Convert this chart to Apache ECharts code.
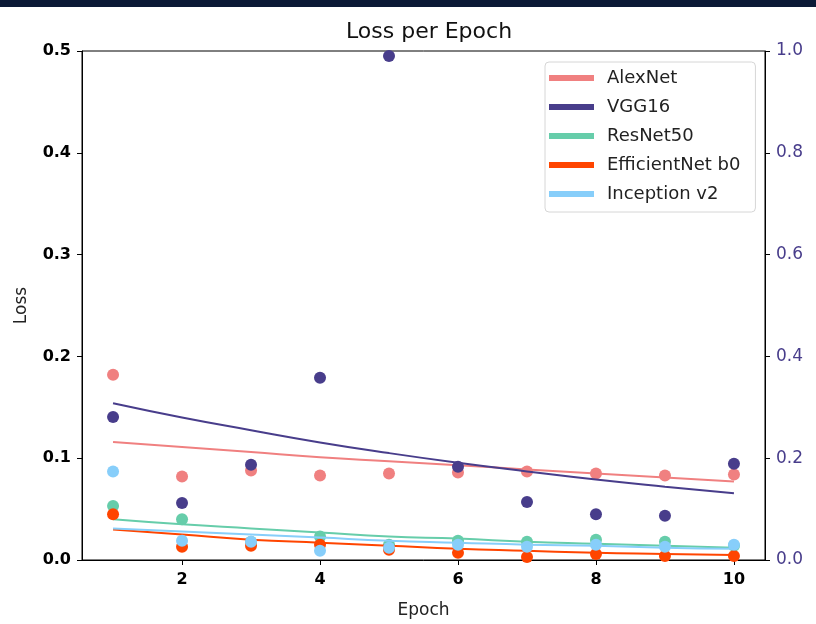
<!DOCTYPE html>
<html>
<head>
<meta charset="utf-8">
<script src="https://cdn.jsdelivr.net/npm/echarts@6/dist/echarts.min.js"></script>
<style>
  html, body { margin: 0; padding: 0; background: #fff; }
  #chart { width: 816px; height: 624px; }
</style>
</head>
<body>
<div id="chart"></div>
<script>
// epochs 1..10
const epochs = [1, 2, 3, 4, 5, 6, 7, 8, 9, 10];
const modelNames = ['AlexNet', 'VGG16', 'ResNet50', 'EfficientNet b0', 'Inception v2'];
const modelColors = ['#f08080', '#483d8b', '#66cdaa', '#ff4500', '#87cefa'];

// measured loss per epoch (dots)
const alexnetLoss   = [0.182, 0.082, 0.088, 0.083, 0.085, 0.086, 0.087, 0.085, 0.083, 0.084];
const vgg16Loss     = [0.281, 0.112, 0.187, 0.358, 0.990, 0.183, 0.114, 0.090, 0.087, 0.189]; // right axis
const resnet50Loss  = [0.053, 0.040, 0.018, 0.023, 0.015, 0.019, 0.018, 0.020, 0.018, 0.014];
const effnetLoss    = [0.045, 0.013, 0.014, 0.015, 0.010, 0.007, 0.003, 0.006, 0.004, 0.004];
const inceptionLoss = [0.087, 0.019, 0.018, 0.009, 0.012, 0.015, 0.013, 0.015, 0.013, 0.015];

// trend lines
const alexnetTrend   = [0.116, 0.111, 0.106, 0.101, 0.097, 0.093, 0.089, 0.085, 0.081, 0.077];
const vgg16Trend     = [0.308, 0.280, 0.255, 0.231, 0.210, 0.191, 0.174, 0.158, 0.144, 0.131];
const resnet50Trend  = [0.040, 0.035, 0.031, 0.027, 0.023, 0.021, 0.018, 0.016, 0.014, 0.012];
const effnetTrend    = [0.030, 0.025, 0.020, 0.017, 0.014, 0.011, 0.009, 0.007, 0.006, 0.005];
const inceptionTrend = [0.031, 0.028, 0.025, 0.022, 0.019, 0.017, 0.015, 0.014, 0.012, 0.011];

const lossList = [alexnetLoss, vgg16Loss, resnet50Loss, effnetLoss, inceptionLoss];
const trendList = [alexnetTrend, vgg16Trend, resnet50Trend, effnetTrend, inceptionTrend];
const leftTicks = ['0.0', '0.1', '0.2', '0.3', '0.4', '0.5'];
const rightTicks = ['0.0', '0.2', '0.4', '0.6', '0.8', '1.0'];
const xTicks = [2, 4, 6, 8, 10];

const font = 'DejaVu Sans';
let chart = echarts.init(document.getElementById('chart'), null, { renderer: 'canvas' });

let series = [];
for (let i = 0; i < modelNames.length; i++) {
  let axisIdx = modelNames[i] === 'VGG16' ? 1 : 0;
  series.push({
    name: modelNames[i],
    type: 'scatter',
    yAxisIndex: axisIdx,
    symbolSize: 12,
    itemStyle: { color: modelColors[i], opacity: 1 },
    data: epochs.map((e, k) => [e, lossList[i][k]]),
    z: 2 + i * 2
  });
  series.push({
    name: modelNames[i],
    type: 'line',
    yAxisIndex: axisIdx,
    showSymbol: false,
    smooth: true,
    lineStyle: { color: modelColors[i], width: 2 },
    itemStyle: { color: modelColors[i] },
    data: epochs.map((e, k) => [e, trendList[i][k]]),
    z: 3 + i * 2
  });
}

let option = {
  backgroundColor: '#fff',
  animation: false,
  textStyle: { fontFamily: font },
  graphic: [{
    type: 'rect',
    shape: { x: 0, y: 0, width: 816, height: 7 },
    style: { fill: '#0b1a36' }
  }],
  title: {
    text: 'Loss per Epoch',
    left: 424,
    textAlign: 'center',
    top: 16,
    textStyle: { fontFamily: font, fontSize: 22, fontWeight: 'normal', color: '#111' }
  },
  legend: {
    orient: 'vertical',
    left: 545,
    top: 62,
    padding: [6, 15, 8, 4],
    itemGap: 9,
    itemWidth: 45,
    itemHeight: 6,
    icon: 'rect',
    backgroundColor: '#fff',
    borderColor: '#d6d6d6',
    borderWidth: 1,
    borderRadius: 4,
    data: modelNames.map((n, i) => ({ name: n, itemStyle: { color: modelColors[i] } })),
    textStyle: { fontFamily: font, fontSize: 18, color: '#222', lineHeight: 20, padding: [0, 0, 0, 8] }
  },
  grid: { left: 82, right: 51, top: 51, bottom: 64, show: true, borderColor: '#000', borderWidth: 1, backgroundColor: 'transparent' },
  xAxis: {
    type: 'value',
    min: 0.55,
    max: 10.45,
    name: 'Epoch',
    nameLocation: 'middle',
    nameGap: 42,
    nameTextStyle: { fontFamily: font, fontSize: 17, color: '#222' },
    axisLine: { show: true, lineStyle: { color: '#000', width: 1 } },
    axisTick: { show: true, length: 5, lineStyle: { color: '#000' }, customValues: xTicks },
    axisLabel: { color: '#000', fontSize: 16, fontWeight: 'bold', margin: 12, customValues: xTicks },
    splitLine: { show: false }
  },
  yAxis: [
    {
      type: 'value',
      min: 0,
      max: 0.5,
      interval: 0.1,
      name: 'Loss',
      nameLocation: 'middle',
      nameGap: 52,
      nameRotate: 90,
      nameTextStyle: { fontFamily: font, fontSize: 17, color: '#222' },
      axisLine: { show: true, lineStyle: { color: '#000' } },
      axisTick: { show: true, length: 5, lineStyle: { color: '#000' } },
      axisLabel: { color: '#000', fontSize: 16, fontWeight: 'bold', margin: 11,
        formatter: v => leftTicks[Math.round(v * 10)] },
      splitLine: { show: false }
    },
    {
      type: 'value',
      position: 'right',
      min: 0,
      max: 1,
      interval: 0.2,
      axisLine: { show: true, lineStyle: { color: '#000' } },
      axisTick: { show: true, length: 5, lineStyle: { color: '#000' } },
      axisLabel: { color: '#483d8b', fontSize: 17, margin: 11,
        formatter: v => rightTicks[Math.round(v * 5)] },
      splitLine: { show: false }
    }
  ],
  series: series
};
chart.setOption(option);
</script>
</body>
</html>
